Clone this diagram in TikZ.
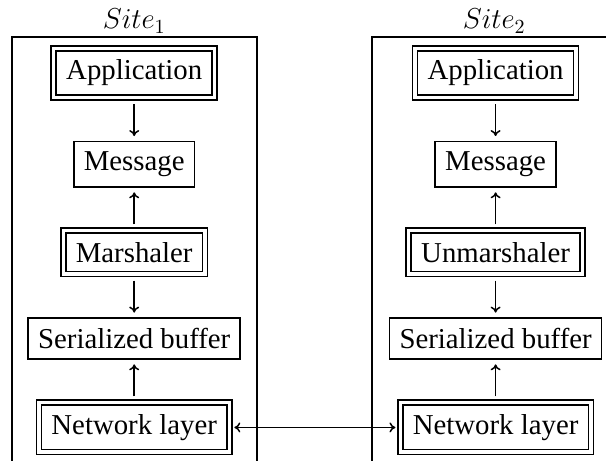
\documentclass[tikz,border=0pt]{standalone}
\usepackage{amsmath}
\usepackage{fontspec}
\setmainfont{Liberation Serif}
\usetikzlibrary{positioning,arrows.meta}

\begin{document}
\begin{tikzpicture}[
    font=\fontsize{14.4}{17}\selectfont,
    node distance=22pt,
    >={To[length=3pt,width=5pt]},
    plainnode/.style={rectangle, draw=black, line width=0.8pt, inner sep=5pt, outer sep=0pt},
    doublenode/.style={rectangle, draw=black, line width=0.8pt, double, double distance=1.7pt, inner xsep=6.3pt, inner ysep=5.8pt, outer sep=0pt},
    sitebox/.style={draw=black, line width=1pt},
    sitelabel/.style={anchor=south, inner sep=1.5pt},
    flow/.style={->, draw=black, line width=0.75pt, shorten <=3.2pt, shorten >=2.8pt}
    ]
        \useasboundingbox (0pt,0pt) rectangle (303pt,-230.5pt);

        %Sites
        \coordinate (s1top) at (67.1pt,-18.35pt);
        \coordinate (s2top) at (247.1pt,-18.35pt);
        \draw[sitebox] (5.85pt,-240pt) rectangle (128.35pt,-18.35pt);
        \draw[sitebox] (185.85pt,-240pt) rectangle (308.35pt,-18.35pt);
        \node[sitelabel] (site1) at (s1top) {$Site_1$};
        \node[sitelabel] (site2) at (s2top) {$Site_2$};

        %Nodes
        \node[doublenode]
            (app1)   at (67.1pt,-36.5pt)   {Application};
        \node[plainnode]
            (msg1)   [below=of app1]       {Message};
        \node[doublenode]
            (mar1)   [below=of msg1]       {Marshaler};
        \node[plainnode]
            (buf1)   [below=of mar1]       {Serialized buffer};
        \node[doublenode]
            (net1)   [below=of buf1]       {Network layer};

        \node[doublenode]
            (app2)   at (247.8pt,-36.5pt)  {Application};
        \node[plainnode]
            (msg2)   [below=of app2]       {Message};
        \node[doublenode]
            (umar2)  [below=of msg2]       {Unmarshaler};
        \node[plainnode]
            (buf2)   [below=of umar2]      {Serialized buffer};
        \node[doublenode]
            (net2)   [below=of buf2]       {Network layer};

        %Lines
        \draw[flow] (app1) -- (msg1);
        \draw[flow] (mar1) -- (msg1);
        \draw[flow] (mar1) -- (buf1);
        \draw[flow] (net1) -- (buf1);

        \draw[flow] (app2) -- (msg2);
        \draw[flow] (umar2) -- (msg2);
        \draw[flow] (umar2) -- (buf2);
        \draw[flow] (net2) -- (buf2);

        \draw[<->, draw=black, line width=0.75pt, shorten <=2.4pt, shorten >=2.4pt]
            (net1.east) -- (net2.west);
\end{tikzpicture}
\end{document}
